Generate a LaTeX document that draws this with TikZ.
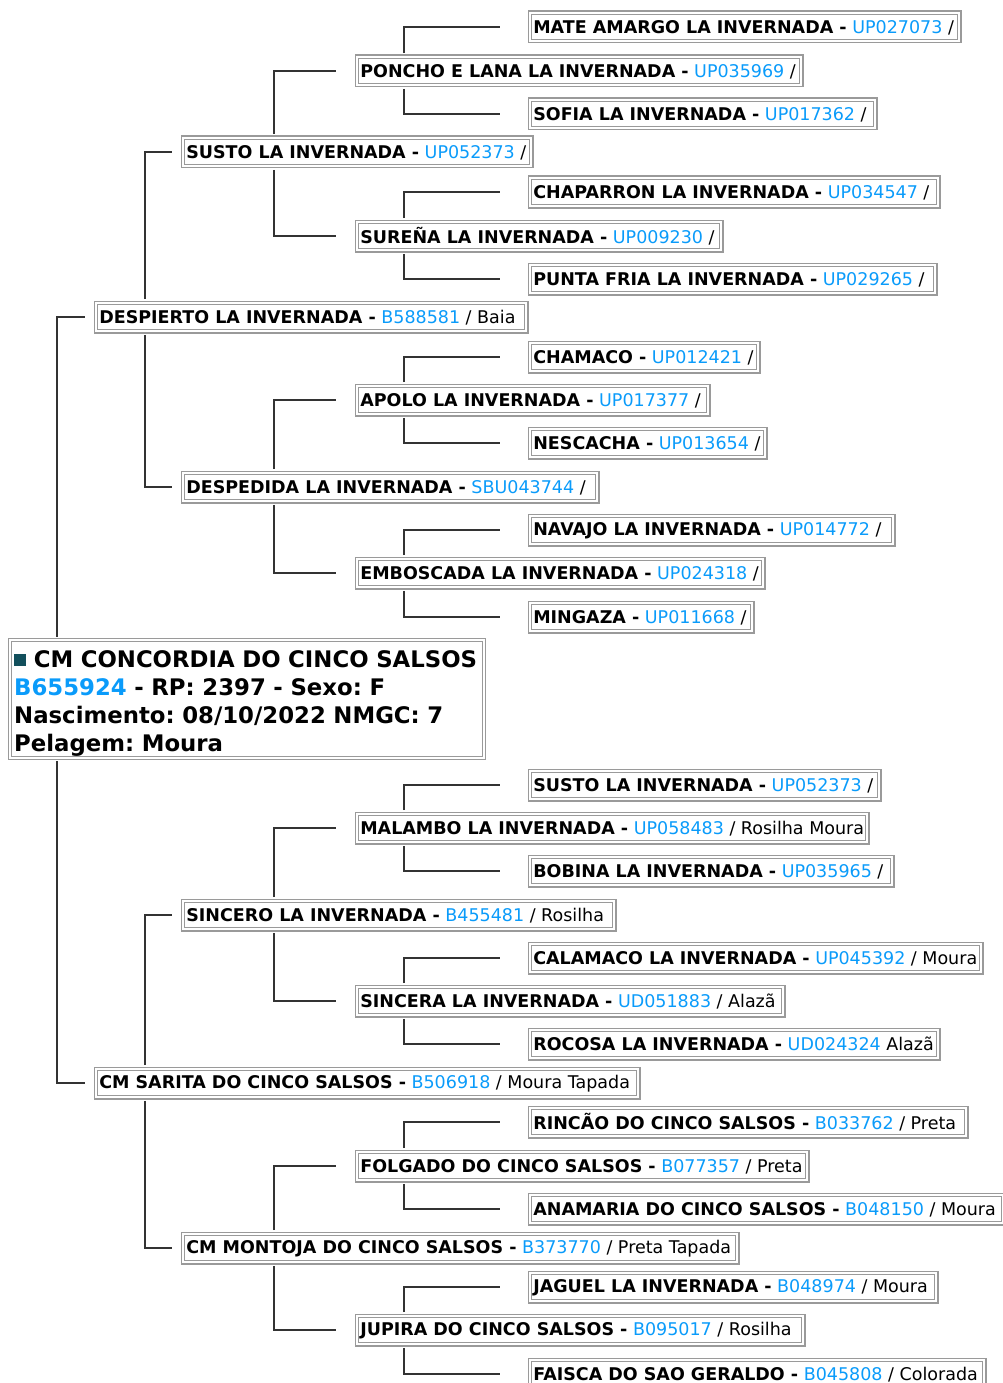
\documentclass[tikz,border=0pt]{standalone}
\usepackage{fontspec}
\setmainfont{DejaVu Sans}
\frenchspacing
\definecolor{bordergray}{HTML}{9A9A9A}
\definecolor{linegray}{HTML}{333333}
\definecolor{codeblue}{HTML}{0A9BFA}
\definecolor{iconteal}{HTML}{124F5C}
\newcommand\ent[3]{\textbf{#1 -} \textcolor{codeblue}{#2} #3}
\tikzset{
  pbox/.style={draw=bordergray, double=white, double distance=2pt, line width=1.2pt,
    inner xsep=3.5pt, inner ysep=0pt, minimum height=28.6pt, anchor=west,
    font=\fontsize{17.5}{20}\selectfont},
  mainbox/.style={draw=bordergray, double=white, double distance=2pt, line width=1.2pt,
    inner xsep=4pt, inner ysep=0pt, minimum height=117.6pt, text width=465.6pt, align=left,
    font=\fontsize{22.8}{28}\selectfont\bfseries},
  conn/.style={draw=linegray, line width=2pt, shorten <=3pt}
}
\newcommand\pb[5]{%
  \pgfmathsetmacro\pbw{#3-#2-11.4}%
  \node[pbox] (#1) at (#2+2.2,#4) {\makebox[\pbw pt][l]{\rule{0pt}{14pt}#5}};%
}
\begin{document}
\begin{tikzpicture}[x=1pt,y=-1pt]
\useasboundingbox (0,0) rectangle (1003,1383);
% main
\node[mainbox] (main) at (247,699) {\mbox{\rule{0pt}{25pt}\textcolor{iconteal}{\raisebox{1pt}{\rule{12pt}{12pt}}} CM CONCORDIA DO CINCO SALSOS}\\
\mbox{\textcolor{codeblue}{B655924} - RP: 2397 - Sexo: F}\\
\mbox{Nascimento: 08/10/2022 NMGC: 7}\\
\mbox{Pelagem: Moura}};
% level 1
\pb{despierto}{93}{528}{317}{\ent{DESPIERTO LA INVERNADA}{B588581}{/ Baia}}
\pb{sarita}{93}{640}{1083}{\ent{CM SARITA DO CINCO SALSOS}{B506918}{/ Moura Tapada}}
% level 2
\pb{susto}{180}{533}{152}{\ent{SUSTO LA INVERNADA}{UP052373}{/}}
\pb{despedida}{180}{599}{487}{\ent{DESPEDIDA LA INVERNADA}{SBU043744}{/}}
\pb{sincero}{180}{616}{915}{\ent{SINCERO LA INVERNADA}{B455481}{/ Rosilha}}
\pb{montoja}{180}{739}{1248}{\ent{CM MONTOJA DO CINCO SALSOS}{B373770}{/ Preta Tapada}}
% level 3
\pb{poncho}{354}{803}{71}{\ent{PONCHO E LANA LA INVERNADA}{UP035969}{/}}
\pb{surena}{354}{723}{236}{\ent{SUREÑA LA INVERNADA}{UP009230}{/}}
\pb{apolo}{354}{710}{400}{\ent{APOLO LA INVERNADA}{UP017377}{/}}
\pb{emboscada}{354}{765}{573}{\ent{EMBOSCADA LA INVERNADA}{UP024318}{/}}
\pb{malambo}{354}{869}{828}{\ent{MALAMBO LA INVERNADA}{UP058483}{/ Rosilha Moura}}
\pb{sincera}{354}{785}{1001}{\ent{SINCERA LA INVERNADA}{UD051883}{/ Alazã}}
\pb{folgado}{354}{809}{1166}{\ent{FOLGADO DO CINCO SALSOS}{B077357}{/ Preta}}
\pb{jupira}{354}{805}{1330}{\ent{JUPIRA DO CINCO SALSOS}{B095017}{/ Rosilha}}
% level 4
\pb{mate}{527}{961}{27}{\ent{MATE AMARGO LA INVERNADA}{UP027073}{/}}
\pb{sofia}{527}{877}{114}{\ent{SOFIA LA INVERNADA}{UP017362}{/}}
\pb{chaparron}{527}{940}{192}{\ent{CHAPARRON LA INVERNADA}{UP034547}{/}}
\pb{punta}{527}{937}{279}{\ent{PUNTA FRIA LA INVERNADA}{UP029265}{/}}
\pb{chamaco}{527}{760}{357}{\ent{CHAMACO}{UP012421}{/}}
\pb{nescacha}{527}{767}{443}{\ent{NESCACHA}{UP013654}{/}}
\pb{navajo}{527}{895}{530}{\ent{NAVAJO LA INVERNADA}{UP014772}{/}}
\pb{mingaza}{527}{754}{617}{\ent{MINGAZA}{UP011668}{/}}
\pb{sustob}{527}{881}{785}{\ent{SUSTO LA INVERNADA}{UP052373}{/}}
\pb{bobina}{527}{894}{871}{\ent{BOBINA LA INVERNADA}{UP035965}{/}}
\pb{calamaco}{527}{983}{958}{\ent{CALAMACO LA INVERNADA}{UP045392}{/ Moura}}
\pb{rocosa}{527}{940}{1044}{\ent{ROCOSA LA INVERNADA}{UD024324}{Alazã}}
\pb{rincao}{527}{968}{1122}{\ent{RINCÃO DO CINCO SALSOS}{B033762}{/ Preta}}
\pb{anamaria}{527}{1005}{1209}{\ent{ANAMARIA DO CINCO SALSOS}{B048150}{/ Moura}}
\pb{jaguel}{527}{938}{1287}{\ent{JAGUEL LA INVERNADA}{B048974}{/ Moura}}
\pb{faisca}{527}{986}{1374}{\ent{FAISCA DO SAO GERALDO}{B045808}{/ Colorada}}
% connectors level 0 -> 1
\draw[conn] (57,0 |- main.north) |- ([xshift=-10.2pt]despierto.west);
\draw[conn] (57,0 |- main.south) |- ([xshift=-10.2pt]sarita.west);
% level 1 -> 2
\draw[conn] (145,0 |- despierto.north) |- ([xshift=-10.2pt]susto.west);
\draw[conn] (145,0 |- despierto.south) |- ([xshift=-10.2pt]despedida.west);
\draw[conn] (145,0 |- sarita.north) |- ([xshift=-10.2pt]sincero.west);
\draw[conn] (145,0 |- sarita.south) |- ([xshift=-10.2pt]montoja.west);
% level 2 -> 3
\draw[conn] (274,0 |- susto.north) |- ([xshift=-20.2pt]poncho.west);
\draw[conn] (274,0 |- susto.south) |- ([xshift=-20.2pt]surena.west);
\draw[conn] (274,0 |- despedida.north) |- ([xshift=-20.2pt]apolo.west);
\draw[conn] (274,0 |- despedida.south) |- ([xshift=-20.2pt]emboscada.west);
\draw[conn] (274,0 |- sincero.north) |- ([xshift=-20.2pt]malambo.west);
\draw[conn] (274,0 |- sincero.south) |- ([xshift=-20.2pt]sincera.west);
\draw[conn] (274,0 |- montoja.north) |- ([xshift=-20.2pt]folgado.west);
\draw[conn] (274,0 |- montoja.south) |- ([xshift=-20.2pt]jupira.west);
% level 3 -> 4
\draw[conn] (404,0 |- poncho.north) |- ([xshift=-29.2pt]mate.west);
\draw[conn] (404,0 |- poncho.south) |- ([xshift=-29.2pt]sofia.west);
\draw[conn] (404,0 |- surena.north) |- ([xshift=-29.2pt]chaparron.west);
\draw[conn] (404,0 |- surena.south) |- ([xshift=-29.2pt]punta.west);
\draw[conn] (404,0 |- apolo.north) |- ([xshift=-29.2pt]chamaco.west);
\draw[conn] (404,0 |- apolo.south) |- ([xshift=-29.2pt]nescacha.west);
\draw[conn] (404,0 |- emboscada.north) |- ([xshift=-29.2pt]navajo.west);
\draw[conn] (404,0 |- emboscada.south) |- ([xshift=-29.2pt]mingaza.west);
\draw[conn] (404,0 |- malambo.north) |- ([xshift=-29.2pt]sustob.west);
\draw[conn] (404,0 |- malambo.south) |- ([xshift=-29.2pt]bobina.west);
\draw[conn] (404,0 |- sincera.north) |- ([xshift=-29.2pt]calamaco.west);
\draw[conn] (404,0 |- sincera.south) |- ([xshift=-29.2pt]rocosa.west);
\draw[conn] (404,0 |- folgado.north) |- ([xshift=-29.2pt]rincao.west);
\draw[conn] (404,0 |- folgado.south) |- ([xshift=-29.2pt]anamaria.west);
\draw[conn] (404,0 |- jupira.north) |- ([xshift=-29.2pt]jaguel.west);
\draw[conn] (404,0 |- jupira.south) |- ([xshift=-29.2pt]faisca.west);
\end{tikzpicture}
\end{document}
